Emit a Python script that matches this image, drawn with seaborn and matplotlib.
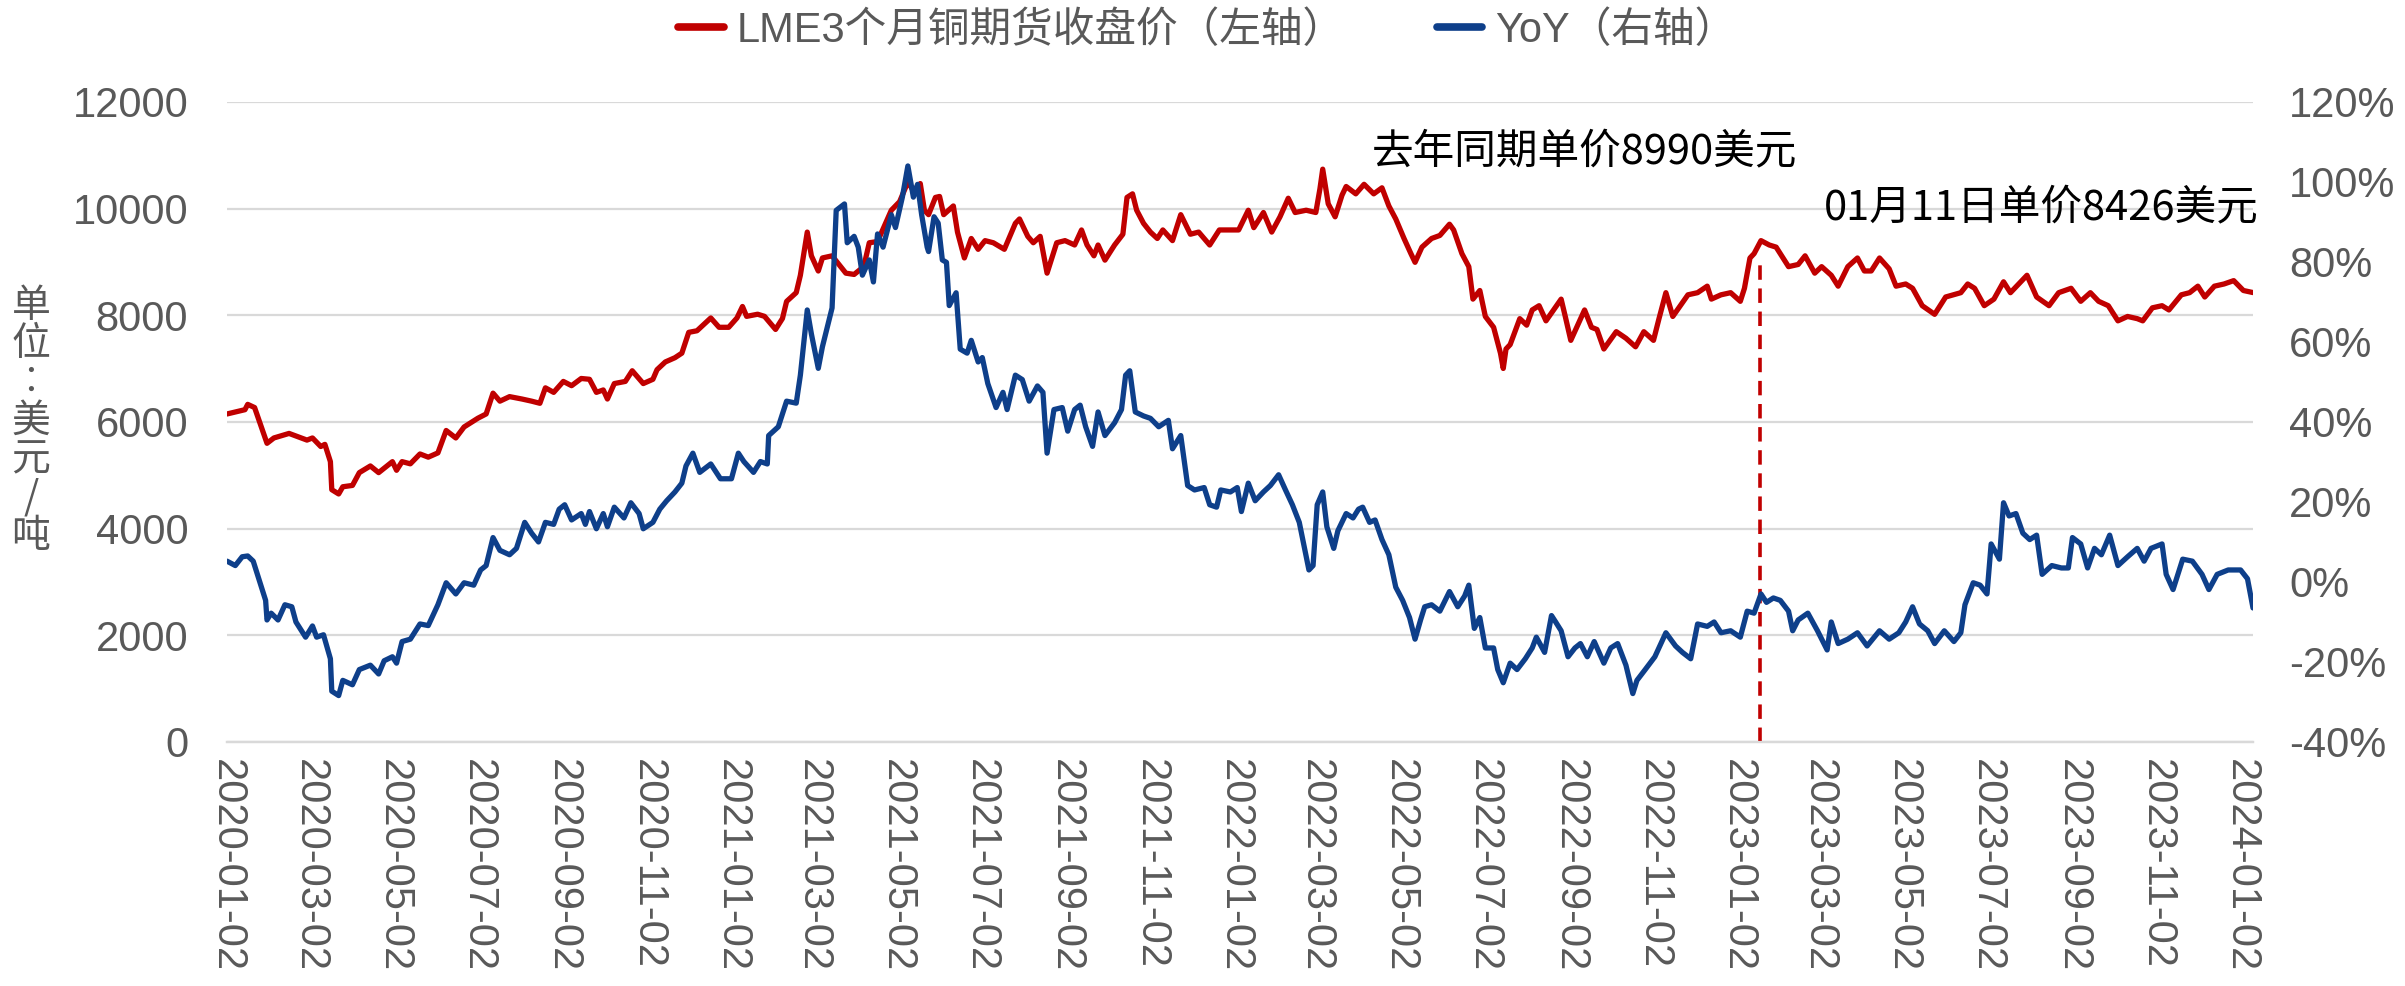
import pandas as pd
import matplotlib
matplotlib.use("Agg")
import matplotlib.pyplot as plt
import matplotlib.dates as mdates
from matplotlib.ticker import FuncFormatter
from matplotlib.lines import Line2D
import seaborn as sns

sns.set_style("white")
plt.rcParams["font.family"] = ["Liberation Sans", "Noto Sans CJK SC", "DejaVu Sans"]

# values (day offset from 2020-01-02)
start = pd.Timestamp("2020-01-02")
end = pd.Timestamp("2024-01-11")

price_days = [0, 13, 15, 20, 26, 29, 34, 45, 58, 62, 68, 71, 75, 76, 81, 84, 91, 96, 104, 110,
              120, 123, 127, 133, 140, 146, 153, 159, 166, 172, 182, 188, 193, 198, 205, 214, 221, 227, 231, 237,
              244, 250, 257, 263, 268, 273, 276, 281, 289, 294, 302, 309, 312, 318, 325, 330, 335, 341, 351, 357,
              364, 370, 374, 377, 385, 390, 398, 403, 406, 413, 416, 421, 424, 429, 432, 439, 449, 455, 462, 466,
              472, 482, 488, 494, 498, 503, 506, 509, 514, 517, 520, 527, 530, 535, 540, 545, 550, 556, 564, 572,
              575, 581, 585, 590, 595, 602, 608, 615, 620, 624, 629, 632, 637, 644, 650, 653, 657, 660, 665, 670,
              675, 679, 686, 692, 699, 705, 713, 720, 728, 734, 741, 745, 752, 758, 764, 770, 775, 783, 790, 793,
              795, 799, 804, 809, 812, 819, 825, 832, 838, 843, 848, 854, 859, 862, 867, 874, 880, 887, 890, 896,
              901, 904, 909, 913, 919, 924, 926, 928, 931, 938, 943, 947, 952, 957, 968, 971, 975, 985, 990, 994,
              999, 1008, 1015, 1022, 1028, 1035, 1039, 1044, 1049, 1060, 1067, 1074, 1077, 1084, 1091, 1098, 1101, 1105, 1108, 1113,
              1119, 1124, 1129, 1133, 1140, 1145, 1152, 1157, 1164, 1169, 1176, 1183, 1188, 1193, 1199, 1206, 1211, 1218, 1223, 1230,
              1239, 1247, 1258, 1263, 1268, 1275, 1282, 1289, 1294, 1300, 1306, 1313, 1322, 1329, 1338, 1345, 1352, 1358, 1365, 1372,
              1379, 1386, 1390, 1397, 1404, 1409, 1418, 1424, 1430, 1435, 1442, 1449, 1456, 1463, 1470]
price = [6150, 6230, 6330, 6270, 5825, 5600, 5700, 5785, 5660, 5700, 5540, 5580, 5256, 4730, 4650, 4785, 4810, 5050, 5175, 5050,
         5256, 5094, 5256, 5215, 5400, 5340, 5420, 5840, 5700, 5906, 6070, 6150, 6540, 6390, 6475, 6430, 6390, 6350, 6640, 6555,
         6760, 6680, 6815, 6800, 6555, 6600, 6430, 6720, 6760, 6960, 6720, 6800, 6980, 7125, 7205, 7290, 7680, 7710, 7950, 7775,
         7775, 7950, 8165, 7980, 8020, 7980, 7735, 7940, 8260, 8425, 8750, 9560, 9115, 8830, 9075, 9115, 8790, 8766, 8912, 9360,
         9383, 9970, 10130, 10500, 10334, 10470, 9970, 9887, 10210, 10228, 9887, 10050, 9560, 9075, 9440, 9237, 9400, 9360, 9237, 9724,
         9806, 9480, 9360, 9480, 8790, 9360, 9400, 9318, 9600, 9318, 9115, 9318, 9034, 9318, 9520, 10210, 10277, 9970, 9724, 9560,
         9440, 9600, 9400, 9887, 9520, 9560, 9318, 9600, 9600, 9600, 9970, 9643, 9927, 9560, 9846, 10195, 9927, 9970, 9927, 10374,
         10740, 10090, 9846, 10252, 10415, 10277, 10456, 10277, 10390, 10050, 9806, 9440, 9156, 8993, 9278, 9440, 9497, 9708, 9600, 9156,
         8912, 8303, 8465, 7978, 7775, 7287, 7003, 7368, 7450, 7937, 7815, 8100, 8180, 7896, 8303, 7978, 7530, 8100, 7775, 7734,
         7368, 7693, 7570, 7409, 7693, 7530, 7937, 8424, 7978, 8384, 8424, 8546, 8303, 8384, 8424, 8262, 8506, 9074, 9156, 9400,
         9318, 9278, 9074, 8912, 8953, 9115, 8790, 8912, 8750, 8546, 8912, 9074, 8831, 8831, 9074, 8871, 8546, 8587, 8506, 8180,
         8018, 8343, 8424, 8587, 8506, 8180, 8303, 8628, 8424, 8587, 8750, 8343, 8180, 8424, 8506, 8262, 8424, 8262, 8180, 7896,
         7978, 7937, 7896, 8140, 8180, 8100, 8384, 8424, 8546, 8343, 8546, 8587, 8650, 8465, 8426]

yoy_days = [0, 6, 11, 15, 19, 24, 28, 29, 32, 37, 42, 47, 50, 57, 62, 65, 70, 75, 76, 81,
            84, 91, 96, 104, 110, 114, 120, 123, 127, 133, 140, 146, 153, 159, 166, 172, 179, 184, 188, 193,
            198, 205, 210, 216, 221, 226, 231, 237, 241, 245, 250, 257, 260, 263, 268, 273, 276, 281, 288, 293,
            299, 302, 309, 314, 319, 325, 330, 333, 338, 343, 351, 358, 366, 371, 375, 382, 387, 392, 393, 400,
            406, 413, 416, 421, 424, 429, 432, 439, 442, 448, 450, 455, 458, 461, 466, 469, 472, 476, 482, 485,
            490, 494, 498, 501, 504, 508, 509, 513, 516, 519, 522, 524, 529, 532, 537, 540, 545, 548, 552, 558,
            563, 566, 572, 577, 582, 588, 592, 595, 600, 606, 610, 615, 619, 623, 628, 632, 637, 644, 649, 652,
            655, 659, 665, 670, 676, 683, 686, 692, 697, 702, 709, 713, 718, 721, 728, 733, 736, 741, 746, 752,
            757, 763, 768, 773, 778, 785, 788, 791, 795, 798, 803, 806, 812, 817, 821, 824, 829, 833, 838, 843,
            848, 853, 858, 862, 866, 869, 874, 880, 887, 893, 898, 901, 905, 909, 913, 919, 922, 926, 931, 936,
            942, 947, 950, 956, 961, 964, 968, 973, 978, 982, 987, 992, 999, 1004, 1009, 1015, 1020, 1023, 1029, 1036,
            1044, 1051, 1056, 1062, 1067, 1074, 1079, 1084, 1091, 1098, 1103, 1108, 1113, 1117, 1122, 1127, 1133, 1136, 1140, 1147,
            1154, 1161, 1164, 1169, 1176, 1183, 1190, 1199, 1206, 1213, 1218, 1223, 1228, 1234, 1239, 1246, 1253, 1258, 1261, 1267,
            1272, 1277, 1280, 1286, 1289, 1293, 1298, 1303, 1308, 1313, 1317, 1324, 1331, 1336, 1339, 1345, 1350, 1355, 1360, 1366,
            1372, 1379, 1386, 1391, 1396, 1404, 1407, 1412, 1419, 1426, 1433, 1438, 1444, 1452, 1461, 1466, 1470]
yoy = [5.2, 4.1, 6.3, 6.5, 5.2, -0.2, -4.6, -9.5, -7.8, -9.5, -5.7, -6.2, -10.0, -13.8, -11.0, -13.8, -13.2, -19.2, -27.3, -28.4,
       -24.6, -25.7, -21.9, -20.8, -23.0, -19.7, -18.7, -20.3, -14.9, -14.3, -10.5, -10.9, -5.7, -0.2, -3.0, -0.2, -0.8, 3.0, 4.1, 11.1,
       7.9, 6.8, 8.4, 14.9, 12.2, 10.0, 14.9, 14.4, 18.2, 19.3, 15.5, 17.1, 14.4, 17.6, 13.3, 17.1, 13.8, 18.7, 16.0, 19.8,
       17.1, 13.3, 14.9, 18.2, 20.3, 22.5, 24.7, 29.0, 32.2, 27.4, 29.5, 25.8, 25.8, 32.2, 30.1, 27.4, 30.1, 29.5, 36.6, 38.8,
       45.2, 44.7, 51.7, 68.0, 62.0, 53.4, 58.8, 68.5, 92.9, 94.5, 84.8, 86.4, 83.7, 76.7, 80.5, 75.0, 87.0, 83.7, 91.8, 88.6,
       96.2, 104.0, 96.2, 99.4, 91.8, 83.7, 82.6, 91.3, 89.7, 80.5, 79.9, 69.1, 72.3, 58.2, 57.2, 60.4, 55.0, 56.1, 49.6, 43.6,
       47.4, 43.1, 51.7, 50.6, 45.2, 49.0, 47.4, 32.2, 43.1, 43.6, 37.7, 43.1, 44.2, 38.8, 33.9, 42.5, 36.6, 39.8, 43.1, 51.7,
       52.8, 42.5, 41.5, 40.9, 38.8, 40.4, 33.3, 36.6, 24.1, 23.0, 23.6, 19.3, 18.7, 23.0, 22.5, 23.6, 17.6, 24.7, 20.3, 22.5,
       24.1, 26.8, 23.0, 19.3, 14.9, 3.0, 4.1, 19.3, 22.5, 13.8, 8.4, 12.8, 17.1, 16.0, 18.2, 18.7, 14.9, 15.5, 10.6, 6.8,
       -1.3, -4.6, -8.9, -14.3, -9.5, -6.2, -5.7, -7.3, -2.4, -6.2, -3.5, -0.8, -11.6, -8.9, -16.5, -16.5, -21.9, -25.2, -20.3, -21.9,
       -19.2, -16.5, -13.8, -17.6, -8.4, -10.0, -12.2, -18.7, -16.5, -15.4, -18.7, -14.9, -20.3, -16.5, -15.4, -20.8, -27.9, -24.6, -21.9, -18.7,
       -12.7, -16.0, -17.6, -19.2, -10.5, -11.1, -10.0, -12.7, -12.2, -13.8, -7.3, -7.8, -3.0, -5.1, -4.0, -4.6, -7.3, -12.2, -9.5, -7.8,
       -12.2, -17.0, -10.0, -15.4, -14.3, -12.7, -16.0, -12.2, -14.3, -12.7, -10.0, -6.2, -10.5, -12.2, -15.4, -12.2, -14.9, -12.7, -5.7, -0.2,
       -0.8, -3.0, 9.5, 5.7, 19.8, 16.5, 17.1, 12.2, 10.6, 11.7, 1.9, 4.1, 3.5, 3.5, 11.1, 9.5, 3.5, 8.4, 6.8, 11.7,
       4.1, 6.3, 8.4, 5.2, 8.4, 9.5, 1.9, -1.9, 5.7, 5.2, 1.9, -1.9, 1.9, 3.0, 3.0, 0.8, -6.5]

mark_date = pd.Timestamp("2023-01-18")
mark_price = 8990
label_price = "LME3个月铜期货收盘价（左轴）"
label_yoy = "YoY（右轴）"
note_last_year = "去年同期单价8990美元"
note_now = "01月11日单价8426美元"

red = "#C00000"
blue = "#0E3F8A"
grey_txt = "#595959"
grid_c = "#D9D9D9"

price_dates = start + pd.to_timedelta(price_days, unit="D")
yoy_dates = start + pd.to_timedelta(yoy_days, unit="D")

fig = plt.figure(figsize=(24.05, 9.86), dpi=100)
ax = fig.add_axes([0.0944, 0.2475, 0.8424, 0.6491])
ax2 = ax.twinx()

sns.lineplot(x=price_dates, y=price, ax=ax, color=red, linewidth=3.8)
sns.lineplot(x=yoy_dates, y=yoy, ax=ax2, color=blue, linewidth=3.8)
ax.vlines(mark_date, 0, mark_price, colors=red, linestyles=(0, (4, 2.4)), linewidth=2.6, zorder=3)

ax.set_xlim(start, end)
ax.set_ylim(0, 12000)
ax.set_yticks(range(0, 12001, 2000))
ax2.set_ylim(-40, 120)
ax2.set_yticks(range(-40, 121, 20))
ax2.yaxis.set_major_formatter(FuncFormatter(lambda v, p: f"{v:.0f}%"))

xt = pd.date_range("2020-01-02", "2024-01-02", freq=pd.DateOffset(months=2))
ax.set_xticks(xt)
ax.xaxis.set_major_formatter(mdates.DateFormatter("%Y-%m-%d"))
ax.tick_params(axis="x", rotation=-90, labelsize=30, labelcolor=grey_txt, length=10,
               width=1.5, color=grid_c, pad=2)
for lab in ax.get_xticklabels():
    lab.set_va("top")
    lab.set_ha("center")
ax.tick_params(axis="y", labelsize=30, labelcolor=grey_txt, length=0, pad=28)
ax2.tick_params(axis="y", labelsize=30, labelcolor=grey_txt, length=0, pad=26)

ax.yaxis.grid(True, color=grid_c, linewidth=1.6)
ax.set_axisbelow(True)
for a in (ax, ax2):
    for s in ("top", "left", "right"):
        a.spines[s].set_visible(False)
    a.spines["bottom"].set_color(grid_c)
    a.spines["bottom"].set_linewidth(1.6)
    a.set_xlabel("")
    a.set_ylabel("")

ax.text(0.565, 0.922, note_last_year, transform=ax.transAxes, fontsize=30,
        family=["Noto Sans CJK SC"], color="black", ha="left", va="center")
ax.text(0.788, 0.834, note_now, transform=ax.transAxes, fontsize=30,
        family=["Noto Sans CJK SC"], color="black", ha="left", va="center")

fig.text(31 / 2405, 1 - 421 / 986, "单\n位\n︰\n美\n元\n/\n吨", fontsize=28, color=grey_txt,
         family=["Noto Sans CJK SC"], ha="center", va="center", linespacing=0.95)

handles = [Line2D([], [], color=red, linewidth=5.5), Line2D([], [], color=blue, linewidth=5.5)]
leg = fig.legend(handles, [label_price, label_yoy], loc="upper center", bbox_to_anchor=(0.502, 1.027),
                 ncol=2, frameon=False, fontsize=30, handlelength=1.1, handletextpad=0.3,
                 columnspacing=2.2)
for t in leg.get_texts():
    t.set_color(grey_txt)

fig.savefig("out.png", dpi=100)
